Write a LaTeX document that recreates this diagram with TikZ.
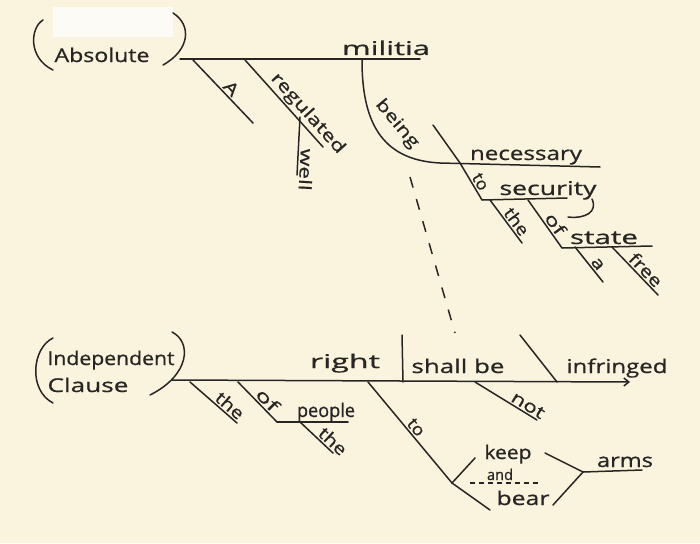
\documentclass[tikz,border=0pt]{standalone}
\usepackage{fontspec}
\setmainfont{Open Sans}
\newfontfamily\handfont[FakeBold=0.7]{Open Sans}
\usetikzlibrary{arrows.meta}
\definecolor{paper}{RGB}{250,243,221}
\definecolor{ink}{RGB}{40,38,36}
\definecolor{tape}{RGB}{253,251,245}
\newcommand\hw[2]{\resizebox{#1pt}{\height}{#2}}
\begin{document}
\begin{tikzpicture}[x=1pt,y=-1pt,
  pen/.style={draw=ink, line width=1.5pt, line cap=round, line join=round},
  word/.style={text=ink, font=\handfont\fontsize{19}{19}\selectfont, inner sep=0pt, anchor=base},
  sword/.style={text=ink, font=\handfont\fontsize{17}{17}\selectfont, inner sep=1.5pt, sloped, above},
  dashline/.style={pen, dash pattern=on 11pt off 12pt, line cap=butt},
]
\fill[paper] (0,0) rectangle (700,543);
\useasboundingbox (0,0) rectangle (700,543);

% ---------- top: absolute construction ----------
\fill[tape] (53,7) rectangle (173,37);
\draw[pen] (43,20) .. controls (30,28) and (28,58) .. (53,70);
\draw[pen] (173,13) .. controls (192,25) and (190,50) .. (163,65);
\node[word] (absolute) at (102,62) {\hw{95}{Absolute}};

\coordinate (tL) at (180,59);
\coordinate (tR) at (420,59);
\draw[pen] (tL) -- (tR);
\node[word] (militia) at (386,55) {\hw{88}{militia}};

\coordinate (a1) at (193,60);
\coordinate (a2) at (253,123);
\draw[pen] (a1) -- (a2) node[sword, pos=0.54] (wA) {\hw{14}{A}};

\coordinate (r1) at (245,60);
\coordinate (r2) at (323,147);
\draw[pen] (r1) -- (r2) node[sword, pos=0.7] (wreg) {\hw{102}{regulated}};

\coordinate (w1) at (300,117);
\coordinate (w2) at (297,175);
\draw[pen] (w1) -- (w2) node[sword, allow upside down, pos=0.9] (wwell) {\hw{42}{well}};

\coordinate (tb) at (362,60);
\coordinate (nb) at (440,163);
\coordinate (nR) at (600,167);
\draw[pen] (tb) .. controls (362,120) and (380,160) .. (nb) -- (nR);
\node[text=ink, font=\handfont\fontsize{17}{17}\selectfont, rotate=-50, inner sep=0pt] (being) at (397,124) {\hw{58}{being}};
\node[word] (necessary) at (526,160) {\hw{112}{necessary}};

\coordinate (s1) at (433,125);
\coordinate (s2) at (460,163);
\coordinate (s3) at (482,200);
\draw[pen] (s1) -- (s2);
\draw[pen] (s2) -- (s3) node[sword, pos=0.62] (wto1) {\hw{17}{to}};

\coordinate (sec2) at (567,198);
\draw[pen] (s3) -- (sec2);
\node[word] (security) at (548,195) {\hw{97}{security}};
\coordinate (tail1) at (592,199);
\coordinate (tail2) at (568,217);
\draw[pen] (tail1) .. controls (598,212) and (585,219) .. (tail2);

\coordinate (th1) at (490,200);
\coordinate (th2) at (522,243);
\draw[pen] (th1) -- (th2) node[sword, pos=0.62] (wthe1) {\hw{30}{the}};

\coordinate (of1) at (528,200);
\coordinate (of2) at (562,248);
\draw[pen] (of1) -- (of2) node[sword, pos=0.6] (wof1) {\hw{23}{of}};
\coordinate (st2) at (652,246);
\draw[pen] (of2) -- (st2);
\node[word] (state) at (604,244) {\hw{68}{state}};

\coordinate (aa1) at (575,247);
\coordinate (aa2) at (603,282);
\draw[pen] (aa1) -- (aa2) node[sword, pos=0.61] (wa) {\hw{12}{a}};

\coordinate (fr1) at (612,247);
\coordinate (fr2) at (658,295);
\draw[pen] (fr1) -- (fr2) node[sword, pos=0.6] (wfree) {\hw{40}{free}};

% ---------- dashed link ----------
\coordinate (d1) at (410,177);
\coordinate (d2) at (455,333);
\draw[dashline] (d1) -- (d2);

% ---------- bottom: independent clause ----------
\draw[pen] (53,338) .. controls (32,348) and (28,390) .. (53,403);
\draw[pen] (172,332) .. controls (192,342) and (190,375) .. (150,395);
\node[word] (indep) at (111,365) {\hw{127}{Independent}};
\node[word] (clause) at (88,392) {\hw{81}{Clause}};

\coordinate (bL) at (172,380);
\coordinate (bR) at (630,382);
\draw[pen, -{Straight Barb[length=5pt,width=8pt]}] (bL) -- (bR);
\node[word] (right) at (345,368) {\hw{70}{right}};

\coordinate (v1) at (402,335);
\coordinate (v2) at (403,382);
\draw[pen] (v1) -- (v2);
\node[word] (shallbe) at (458,373) {\hw{93}{shall be}};

\coordinate (sl1) at (520,335);
\coordinate (sl2) at (557,382);
\draw[pen] (sl1) -- (sl2);
\node[word] (infringed) at (617,373) {\hw{101}{infringed}};

\coordinate (n1) at (475,382);
\coordinate (n2) at (537,420);
\draw[pen] (n1) -- (n2) node[sword, pos=0.79] (wnot) {\hw{36}{not}};

\coordinate (to1) at (368,382);
\coordinate (j) at (452,483);
\draw[pen] (to1) -- (j) node[sword, pos=0.5] (wto2) {\hw{18}{to}};
\coordinate (k2) at (475,458);
\coordinate (be2) at (490,510);
\draw[pen] (j) -- (k2);
\draw[pen] (j) -- (be2);
\node[word] (keep) at (508,459) {\hw{47}{keep}};
\coordinate (and1) at (470,483);
\coordinate (and2) at (540,483);
\draw[pen, dash pattern=on 5pt off 4pt, line cap=butt, line width=1.2pt] (and1) -- (and2);
\node[word, font=\handfont\fontsize{15}{15}\selectfont] (and) at (500,480) {\hw{26}{and}};
\node[word] (bear) at (523,505) {\hw{53}{bear}};

\coordinate (f1) at (545,453);
\coordinate (f2) at (553,505);
\coordinate (fj) at (583,472);
\coordinate (ar2) at (642,470);
\draw[pen] (f1) -- (fj);
\draw[pen] (f2) -- (fj);
\draw[pen] (fj) -- (ar2);
\node[word] (arms) at (625,467) {\hw{56}{arms}};

\coordinate (bt1) at (190,382);
\coordinate (bt2) at (237,423);
\draw[pen] (bt1) -- (bt2) node[sword, pos=0.73] (wthe2) {\hw{32}{the}};

\coordinate (bo1) at (238,382);
\coordinate (bo2) at (277,422);
\draw[pen] (bo1) -- (bo2) node[sword, pos=0.6] (wof2) {\hw{25}{of}};
\coordinate (pp2) at (348,422);
\draw[pen] (bo2) -- (pp2);
\node[word] (people) at (326,417) {\hw{58}{people}};

\coordinate (pt1) at (300,422);
\coordinate (pt2) at (333,453);
\draw[pen] (pt1) -- (pt2) node[sword, pos=0.82] (wthe3) {\hw{32}{the}};
\end{tikzpicture}
\end{document}
